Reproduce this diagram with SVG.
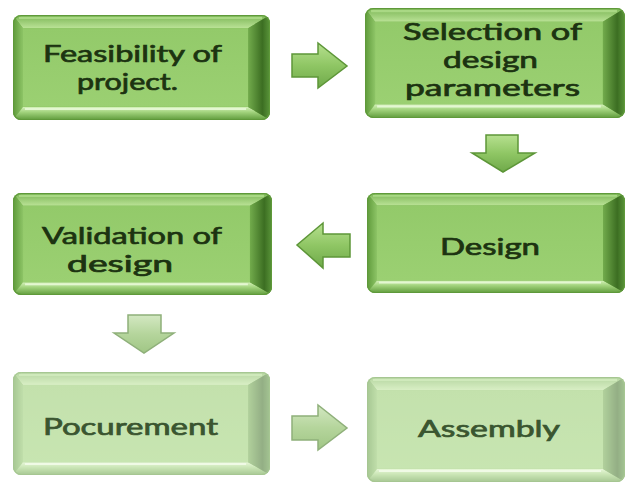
<svg xmlns="http://www.w3.org/2000/svg" xmlns:xlink="http://www.w3.org/1999/xlink" width="627" height="484" viewBox="0 0 627 484">
<style>
.lbl{font-family:Lato,"Open Sans","Liberation Sans",sans-serif;font-size:23px;fill:#1c3311;stroke:#1c3311;stroke-width:0.7}
.faded .lbl{fill:#3a5530;stroke:#3a5530}
.arrow{fill:url(#arrowFill);stroke:#5d9638;stroke-width:1.5;stroke-linejoin:miter}
.arrow.pale{fill:url(#arrowPale);stroke:#8fb07a}
</style>
<defs>
<linearGradient id="rightBevel" x1="0" y1="0" x2="1" y2="0">
<stop offset="0" stop-color="#72ab4c"/>
<stop offset="0.65" stop-color="#3c6e22"/>
<stop offset="1" stop-color="#5a953a"/>
</linearGradient>
<linearGradient id="topBevel" x1="0" y1="0" x2="0" y2="1">
<stop offset="0" stop-color="#7ab554"/>
<stop offset="1" stop-color="#bae296"/>
</linearGradient>
<linearGradient id="bottomBevel" x1="0" y1="0" x2="0" y2="1">
<stop offset="0" stop-color="#d6f2bb"/>
<stop offset="0.4" stop-color="#a2d37d"/>
<stop offset="1" stop-color="#5f9b3b"/>
</linearGradient>
<linearGradient id="leftBevel" x1="0" y1="0" x2="1" y2="0">
<stop offset="0" stop-color="#5e9a3a"/>
<stop offset="1" stop-color="#8dc466"/>
</linearGradient>
<linearGradient id="face" x1="0" y1="0" x2="0" y2="1">
<stop offset="0" stop-color="#93ca6a"/>
<stop offset="1" stop-color="#9bd072"/>
</linearGradient>
<linearGradient id="arrowFill" x1="0" y1="0" x2="0" y2="1">
<stop offset="0" stop-color="#b6e08f"/>
<stop offset="0.5" stop-color="#8fc664"/>
<stop offset="1" stop-color="#6fa94a"/>
</linearGradient>
<linearGradient id="arrowPale" x1="0" y1="0" x2="0" y2="1">
<stop offset="0" stop-color="#d3e8c2"/>
<stop offset="0.5" stop-color="#b5d59c"/>
<stop offset="1" stop-color="#a0c685"/>
</linearGradient>
<clipPath id="boxClip">
<rect x="0" y="0" width="258" height="104" rx="8"/>
</clipPath>
<symbol id="box" viewBox="0 0 258 104" preserveAspectRatio="none">
<g clip-path="url(#boxClip)">
<rect x="0" y="0" width="258" height="104" fill="#6fab47"/>
<polygon points="0,0 258,0 236,13 10,13" fill="url(#topBevel)"/>
<polygon points="0,0 10,13 10,91 0,104" fill="url(#leftBevel)"/>
<polygon points="0,104 10,91 236,91 258,104" fill="url(#bottomBevel)"/>
<polygon points="258,0 236,13 236,91 258,104" fill="url(#rightBevel)"/>
<rect x="10" y="13" width="226" height="78" fill="url(#face)"/>
<line x1="12" y1="93" x2="234" y2="93" stroke="#e4f7d2" stroke-width="2"/>
<line x1="6" y1="3" x2="250" y2="3" stroke="#a9d884" stroke-width="2"/>
</g>
<rect x="0.5" y="0.5" width="257" height="103" rx="8" fill="none" stroke="#5f993a" stroke-width="1"/>
</symbol>
</defs>
<rect width="627" height="484" fill="#ffffff"/>

<g id="connectors">
<polygon class="arrow" points="292,54 318,54 318,43 347,66 318,88 318,77 292,77"/>
<polygon class="arrow" points="486,135 518,135 518,153 535,153 503,172 472,153 486,153"/>
<polygon class="arrow" points="350,234 323,234 323,223 297,245 323,268 323,257 350,257"/>
<polygon class="arrow pale" points="128,315 161,315 161,333 174,333 144,353 114,333 128,333"/>
<polygon class="arrow pale" points="292,416 318,416 318,405 347,428 318,450 318,440 292,440"/>
</g>

<g id="node-feasibility">
<use xlink:href="#box" x="13" y="15" width="257" height="105"/>
<text class="lbl" x="43" y="62" textLength="179" lengthAdjust="spacingAndGlyphs">Feasibility of</text>
<text class="lbl" x="77" y="90" textLength="101" lengthAdjust="spacingAndGlyphs">project.</text>
</g>

<g id="node-selection">
<use xlink:href="#box" x="365" y="8" width="260" height="110"/>
<text class="lbl" x="403" y="40" textLength="179" lengthAdjust="spacingAndGlyphs">Selection of</text>
<text class="lbl" x="443" y="68" textLength="95" lengthAdjust="spacingAndGlyphs">design</text>
<text class="lbl" x="405" y="96" textLength="175" lengthAdjust="spacingAndGlyphs">parameters</text>
</g>

<g id="node-validation">
<use xlink:href="#box" x="13" y="193" width="259" height="102"/>
<text class="lbl" x="42" y="244" textLength="180" lengthAdjust="spacingAndGlyphs">Validation of</text>
<text class="lbl" x="67" y="272" textLength="106" lengthAdjust="spacingAndGlyphs">design</text>
</g>

<g id="node-design">
<use xlink:href="#box" x="367" y="193" width="258" height="100"/>
<text class="lbl" x="440" y="255" textLength="100" lengthAdjust="spacingAndGlyphs">Design</text>
</g>

<g id="node-procurement" class="faded">
<use xlink:href="#box" x="13" y="372" width="257" height="103" opacity="0.55"/>
<text class="lbl" x="43" y="435" textLength="175" lengthAdjust="spacingAndGlyphs">Pocurement</text>
</g>

<g id="node-assembly" class="faded">
<use xlink:href="#box" x="367" y="377" width="258" height="105" opacity="0.55"/>
<text class="lbl" x="418" y="437" textLength="142" lengthAdjust="spacingAndGlyphs">Assembly</text>
</g>
</svg>
